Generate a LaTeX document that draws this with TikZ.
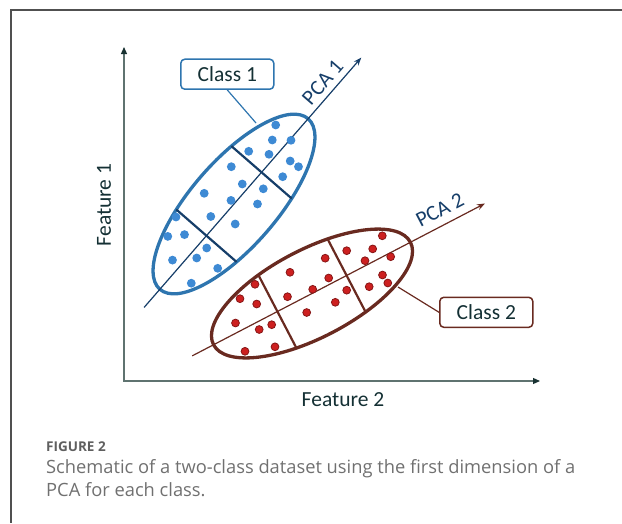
\documentclass[tikz,border=0pt]{standalone}
\usepackage{fontspec}
\setmainfont{Carlito}
\newfontfamily\capfont{Open Sans}
\usetikzlibrary{arrows.meta,shapes.geometric}
\definecolor{axisc}{RGB}{95,115,112}
\definecolor{tipc}{RGB}{25,50,50}
\definecolor{labc}{RGB}{20,48,52}
\definecolor{bluee}{RGB}{46,117,175}
\definecolor{bluedark}{RGB}{22,62,105}
\definecolor{bluedot}{RGB}{62,138,212}
\definecolor{brownc}{RGB}{105,42,32}
\definecolor{reddot}{RGB}{205,32,32}
\definecolor{reddotedge}{RGB}{135,22,22}
\definecolor{framec}{RGB}{80,80,80}
\definecolor{capc}{RGB}{112,112,112}
\definecolor{figc}{RGB}{95,95,95}
\tikzset{
  axisline/.style={draw=axisc, line width=1.2pt, {Triangle[length=7pt,width=6pt,color=tipc]}-{Triangle[length=7pt,width=6pt,color=tipc]}},
  ell/.style={ellipse, inner sep=0pt, line width=3.3pt},
  divider/.style={line width=2.2pt},
  pcaline/.style={line width=1.2pt, -{Stealth[length=8pt,width=6pt]}},
  classbox/.style={draw, rounded corners=4pt, line width=1.5pt, minimum width=93pt, minimum height=30pt, inner sep=0pt, text=labc, font=\fontsize{21.5}{24}\selectfont},
  lab/.style={text=labc, font=\fontsize{21.5}{24}\selectfont, inner sep=0pt},
  bdot/.style={fill=bluedot},
  rdot/.style={fill=reddot, draw=reddotedge, line width=0.8pt},
  captext/.style={anchor=base west, inner sep=0pt, text=capc, font=\capfont\fontsize{18.3}{22}\selectfont}
}
\begin{document}
\begin{tikzpicture}[x=1pt,y=-1pt]
\useasboundingbox (0,0) rectangle (622,523);
% frame
\draw[framec, line width=1.5pt] (622,10) -- (11,10) -- (11,523);
% axes
\coordinate (ytop) at (124,47);
\coordinate (orig) at (124,381);
\coordinate (xend) at (540,381);
\draw[axisline] (ytop) -- (orig) -- (xend);
\node[lab, rotate=90] (f1) at (104,205) {Feature 1};
\node[lab] (f2) at (343,400) {Feature 2};

% ---------- class 1 ----------
\node[ell, draw=bluee, minimum width=226pt, minimum height=86pt, rotate=49] (e1) at (234,204) {};
\begin{scope}[shift={(234,204)}, rotate=49]
  \coordinate (p1s) at (-137,0);
  \coordinate (p1e) at (194,0);
  \coordinate (d1a) at (-42,-40);
  \coordinate (d1b) at (-42,40);
  \coordinate (d1c) at (42,-40);
  \coordinate (d1d) at (42,40);
  \coordinate (l1pos) at (150,-6);
\end{scope}
\draw[divider, bluedark] (d1a) -- (d1b);
\draw[divider, bluedark] (d1c) -- (d1d);
\draw[pcaline, bluedark] (p1s) -- (p1e);
\foreach \x/\y in {275.7/125, 272.3/140, 291/140.3, 248.7/151.3, 269/154.3, 290.2/161, 298.5/166.7, 282.7/176.7,
  231.3/166.7, 242.3/184, 263.3/188.8, 204.2/193.3, 231/200.4, 257.5/204, 176/217, 210.8/216.5, 235.2/224,
  167.8/236.4, 184.5/234.6, 206.7/248, 196.7/258, 172.5/260.1, 217.7/268.3, 191.3/283.2}
  \fill[bdot] (\x,\y) circle (4.4pt);
\node[classbox, draw=bluee] (c1) at (227.3,74.2) {Class 1};
\coordinate (c1t) at (256,123);
\draw[bluee, line width=1.2pt] (c1.south) -- (c1t);
\node[lab, text=bluedark, rotate=49, anchor=base] (l1) at (l1pos) {PCA 1};

% ---------- class 2 ----------
\node[ell, draw=brownc, minimum width=222pt, minimum height=88pt, rotate=27.5] (e2) at (312,293.5) {};
\begin{scope}[shift={(312,293.5)}, rotate=27.5]
  \coordinate (p2s) at (-135,0);
  \coordinate (p2e) at (195,0);
  \coordinate (d2a) at (-39,-41);
  \coordinate (d2b) at (-39,41);
  \coordinate (d2c) at (39,-41);
  \coordinate (d2d) at (39,41);
  \coordinate (l2pos) at (152,-8);
\end{scope}
\draw[divider, brownc] (d2a) -- (d2b);
\draw[divider, brownc] (d2c) -- (d2d);
\draw[pcaline, brownc] (p2s) -- (p2e);
\foreach \x/\y in {382.3/235.8, 372.7/248.9, 346.7/250.7, 390.7/256.7, 365/260.7, 325.2/258.2, 382.5/275, 387.8/283,
  369.2/286.7, 290/272.3, 328.7/278, 312.7/289.3, 346.7/290.2, 335.3/302.3, 255/284.3, 240/298.7, 256.7/304,
  287.5/296.7, 306.7/312.5, 235.5/323, 259.2/329.5, 271.7/324.7, 245/351.3, 275/346.8}
  \filldraw[rdot] (\x,\y) circle (3.9pt);
\node[classbox, draw=brownc] (c2) at (486.3,312.3) {Class 2};
\coordinate (c2t) at (398,287);
\draw[brownc, line width=1.2pt] (c2t) -- (c2.west);
\node[lab, text=bluedark, rotate=27.5, anchor=base] (l2) at (l2pos) {PCA 2};

% caption
\node[anchor=base west, inner sep=0pt, text=figc, font=\capfont\fontsize{13.5}{16}\selectfont\bfseries] (fig) at (46,451) {FIGURE 2};
\node[captext] (cap1) at (46,473) {Schematic of a two-class dataset using the first dimension of a};
\node[captext] (cap2) at (46,496.5) {PCA for each class.};
\end{tikzpicture}
\end{document}
